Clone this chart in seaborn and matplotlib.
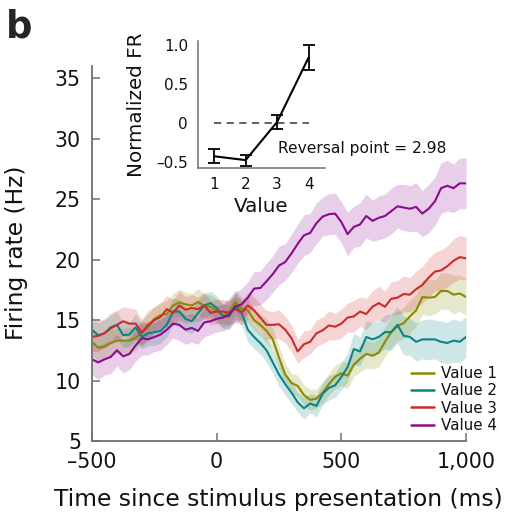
import numpy as np
import pandas as pd
import matplotlib
matplotlib.use("Agg")
import matplotlib.pyplot as plt
from matplotlib.lines import Line2D
import seaborn as sns

# ---------------- data ----------------
time_ms = list(range(-500, 1001, 25))

value1 = [13.2, 12.7, 12.8, 13.1, 13.3, 13.3, 13.3, 13.5, 14.0, 14.4, 15.1, 15.4, 15.5, 16.2, 16.45, 16.3, 16.2, 16.5, 16.15, 16.1, 15.75,
          15.4, 15.7, 16.5, 15.9, 15.8, 15.0, 14.6, 14.1, 13.4, 11.9, 10.5, 9.8, 9.55, 8.8, 8.4, 8.5, 9.0, 9.7, 10.3, 10.6,
          10.4, 11.3, 11.8, 12.2, 12.05, 12.3, 13.2, 14.0, 14.5, 14.75, 15.3, 15.8, 16.9, 16.85, 16.9, 17.4, 17.4, 17.1, 17.2, 16.9]
value2 = [14.2, 13.75, 13.9, 14.4, 14.6, 13.75, 13.8, 14.4, 13.6, 13.9, 14.0, 14.1, 14.6, 15.7, 15.7, 15.1, 14.9, 15.55, 16.2, 16.4, 16.0,
          15.3, 15.3, 16.2, 15.6, 14.2, 13.6, 13.1, 12.5, 11.5, 10.5, 9.7, 9.0, 8.2, 7.7, 8.1, 7.9, 8.9, 9.4, 9.6, 10.3,
          11.1, 12.6, 12.4, 13.6, 13.4, 13.6, 14.0, 14.0, 14.6, 13.7, 13.6, 13.2, 13.4, 13.4, 13.4, 13.2, 13.1, 13.3, 13.2, 13.6]
value3 = [13.6, 13.7, 13.9, 14.3, 14.6, 14.9, 14.7, 14.7, 13.95, 14.6, 15.0, 15.25, 15.9, 15.6, 16.2, 15.85, 16.0, 15.9, 16.2, 15.6, 15.7,
          15.7, 15.6, 15.9, 15.6, 16.2, 15.8, 15.2, 14.6, 14.6, 14.65, 14.2, 13.5, 12.4, 13.0, 13.2, 13.9, 14.15, 14.55, 14.45, 14.7,
          15.2, 15.3, 15.7, 15.5, 16.1, 16.4, 16.1, 16.75, 16.85, 17.15, 17.1, 17.55, 17.9, 18.5, 19.0, 19.1, 19.45, 19.9, 20.2, 20.1]
value4 = [11.75, 11.5, 11.75, 11.95, 12.5, 12.0, 12.2, 12.9, 13.5, 13.4, 13.6, 13.8, 14.2, 14.7, 14.6, 14.2, 14.35, 14.1, 14.8, 14.9, 15.1,
          15.2, 15.45, 16.1, 16.3, 16.85, 17.6, 17.65, 18.2, 18.8, 19.5, 19.8, 20.5, 21.3, 22.0, 22.2, 23.0, 23.55, 23.75, 23.8, 23.1,
          22.1, 22.7, 22.9, 23.6, 23.2, 23.45, 23.6, 24.0, 24.4, 24.3, 24.2, 24.35, 23.8, 24.2, 24.8, 25.9, 26.1, 25.9, 26.3, 26.3]

sem1 = [1.1, 1.1, 1.0, 1.1, 1.0, 1.0, 1.1, 1.0, 1.0, 1.1, 1.0, 1.0, 1.1, 1.0, 1.1, 1.0, 1.0, 1.1, 1.0, 1.0, 1.0,
        1.0, 1.1, 1.0, 1.0, 1.0, 0.9, 0.9, 1.0, 0.9, 0.9, 0.9, 0.8, 0.9, 0.8, 0.9, 0.8, 0.9, 0.9, 1.0, 1.0,
        1.1, 1.0, 1.1, 1.2, 1.1, 1.2, 1.2, 1.3, 1.2, 1.3, 1.4, 1.3, 1.4, 1.5, 1.4, 1.5, 1.5, 1.6, 1.5, 1.5]
sem2 = [1.1, 1.0, 1.1, 1.0, 1.1, 1.0, 1.0, 1.1, 1.0, 1.0, 1.1, 1.0, 1.0, 1.1, 1.0, 1.0, 1.0, 1.1, 1.0, 1.0, 1.0,
        1.0, 1.0, 1.1, 1.0, 1.0, 1.0, 0.9, 1.0, 0.9, 1.0, 0.9, 0.9, 0.8, 0.9, 0.8, 0.9, 0.9, 1.0, 1.0, 1.1,
        1.2, 1.3, 1.2, 1.3, 1.4, 1.3, 1.4, 1.5, 1.5, 1.6, 1.5, 1.6, 1.6, 1.7, 1.6, 1.7, 1.7, 1.8, 1.7, 1.7]
sem3 = [1.2, 1.3, 1.2, 1.3, 1.2, 1.2, 1.3, 1.2, 1.1, 1.2, 1.1, 1.2, 1.1, 1.1, 1.2, 1.1, 1.1, 1.0, 1.1, 1.0, 1.0,
        1.0, 1.0, 1.1, 1.0, 1.1, 1.1, 1.1, 1.2, 1.1, 1.2, 1.1, 1.1, 1.0, 1.1, 1.0, 1.1, 1.1, 1.2, 1.1, 1.2,
        1.2, 1.3, 1.2, 1.3, 1.3, 1.4, 1.3, 1.4, 1.4, 1.5, 1.4, 1.5, 1.5, 1.6, 1.6, 1.7, 1.7, 1.8, 1.8, 1.8]
sem4 = [1.3, 1.4, 1.3, 1.4, 1.3, 1.4, 1.3, 1.3, 1.4, 1.3, 1.2, 1.3, 1.2, 1.2, 1.3, 1.2, 1.2, 1.1, 1.2, 1.1, 1.1,
        1.1, 1.2, 1.2, 1.3, 1.3, 1.4, 1.4, 1.5, 1.5, 1.6, 1.5, 1.6, 1.6, 1.7, 1.6, 1.7, 1.6, 1.7, 1.7, 1.7,
        1.8, 1.7, 1.8, 1.8, 1.7, 1.8, 1.8, 1.9, 1.8, 1.9, 1.9, 2.0, 1.9, 2.0, 2.0, 2.1, 2.1, 2.0, 2.1, 2.1]

labels = ["Value 1", "Value 2", "Value 3", "Value 4"]
colors = ["#8a8a00", "#0a8585", "#cc2b2b", "#8c0a8c"]

inset_x = [1, 2, 3, 4]
inset_y = [-0.43, -0.48, 0.01, 0.84]
inset_err = [0.09, 0.07, 0.09, 0.16]
reversal_text = "Reversal point = 2.98"

# ---------------- style ----------------
sns.set_theme(style="ticks")
plt.rcParams['font.family'] = ['DejaVu Sans']
spine_col = "#707070"
txt_col = "#111111"

fig = plt.figure(figsize=(5.07, 5.14), dpi=100)
ax = fig.add_axes([92/507, 1-441/514, 374/507, 375/514])

rows = []
means = [value1, value2, value3, value4]
sems = [sem1, sem2, sem3, sem4]
for lab, m in zip(labels, means):
    for t, v in zip(time_ms, m):
        rows.append({"time": t, "rate": v, "cond": lab})
df = pd.DataFrame(rows)

for lab, m, s, c in zip(labels, means, sems, colors):
    m = np.array(m); s = np.array(s)
    ax.fill_between(time_ms, m - s, m + s, color=c, alpha=0.2, lw=0)

sns.lineplot(data=df, x="time", y="rate", hue="cond", palette=dict(zip(labels, colors)),
             ax=ax, lw=1.5, legend=False)

ax.set_xlim(-500, 1000)
ax.set_ylim(5, 36)
ax.set_xticks([-500, 0, 500, 1000])
ax.set_xticklabels(["\u2013500", "0", "500", "1,000"])
ax.set_yticks([5, 10, 15, 20, 25, 30, 35])
for sp in ["top", "right"]:
    ax.spines[sp].set_visible(False)
for sp in ["left", "bottom"]:
    ax.spines[sp].set_color(spine_col)
    ax.spines[sp].set_linewidth(1.3)
ax.tick_params(direction="in", length=6, width=1.1, color=spine_col, labelsize=14.8, pad=8, labelcolor=txt_col)
ax.set_xlabel("Time since stimulus presentation (ms)", fontsize=16.8, color=txt_col)
ax.set_ylabel("Firing rate (Hz)", fontsize=16.8, color=txt_col)
ax.xaxis.set_label_coords(0.497, -0.125)
ax.yaxis.set_label_coords(-0.171, 0.503)

handles = [Line2D([0], [0], color=c, lw=1.8) for c in colors]
leg = ax.legend(handles, labels, loc="upper left", bbox_to_anchor=(411/507, 1-366/514),
          bbox_transform=fig.transFigure, frameon=False, fontsize=10.9,
          handlelength=1.55, handletextpad=0.44, labelspacing=0.15, borderpad=0, borderaxespad=0)
for t in leg.get_texts():
    t.set_color(txt_col)

# ---------------- inset ----------------
axi = fig.add_axes([197.7/507, 1-168.3/514, 127.3/507, 127.6/514])
axi.plot([1, 4], [0, 0], ls="--", color="#555555", lw=1.3, dashes=(4, 3))
axi.errorbar(inset_x, inset_y, yerr=inset_err, color="black", lw=1.5, capsize=4, capthick=1.3, elinewidth=1.3)
axi.set_xlim(0.48, 4.52)
axi.set_ylim(-0.585, 1.055)
axi.set_xticks(inset_x)
axi.set_yticks([-0.5, 0, 0.5, 1.0])
axi.set_yticklabels(["\u20130.5", "0", "0.5", "1.0"])
axi.patch.set_alpha(0)
for sp in ["top", "right"]:
    axi.spines[sp].set_visible(False)
for sp in ["left", "bottom"]:
    axi.spines[sp].set_color(spine_col)
    axi.spines[sp].set_linewidth(1.1)
axi.tick_params(length=0, labelsize=11, pad=7, labelcolor=txt_col)
axi.tick_params(axis="x", pad=6)
axi.set_xlabel("Value", fontsize=14.3, color=txt_col, labelpad=4)
axi.set_ylabel("Normalized FR", fontsize=14.3, color=txt_col, labelpad=7.3)

fig.text(278/507, 1-148/514, reversal_text, fontsize=11.2, va="center", ha="left", color=txt_col)
fig.text(6/507, 1-38/514, "b", fontsize=26.5, weight="bold", va="baseline", ha="left")

fig.savefig("out.png", dpi=100)
